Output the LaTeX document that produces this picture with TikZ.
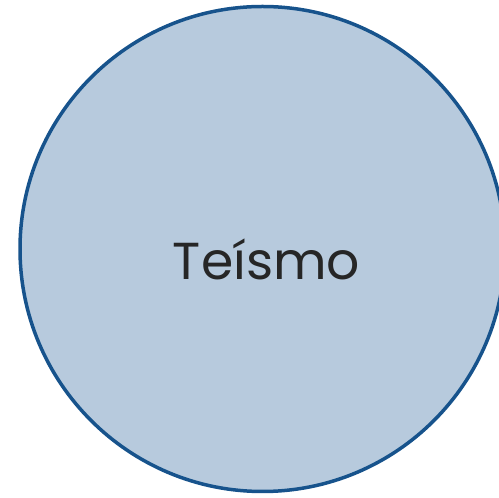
\documentclass[tikz,border=0pt]{standalone}
\usepackage{fontspec}
\setmainfont{Poppins}
\definecolor{circfill}{HTML}{B7CADD}
\definecolor{circline}{HTML}{17538C}
\definecolor{txt}{HTML}{262626}
\begin{document}
\begin{tikzpicture}[x=1pt,y=1pt,
  bigcircle/.style={circle, draw=circline, fill=circfill, line width=3.5pt, minimum size=485pt, inner sep=0pt},
  label/.style={text=txt, font=\fontsize{52}{60}\selectfont, inner sep=0pt, anchor=base}]
\useasboundingbox (0,0) rectangle (499,498);
\node[bigcircle] (c) at (262.5,249) {};
\node[label] (t) at (266.5,218) {Teísmo};
\end{tikzpicture}
\end{document}
